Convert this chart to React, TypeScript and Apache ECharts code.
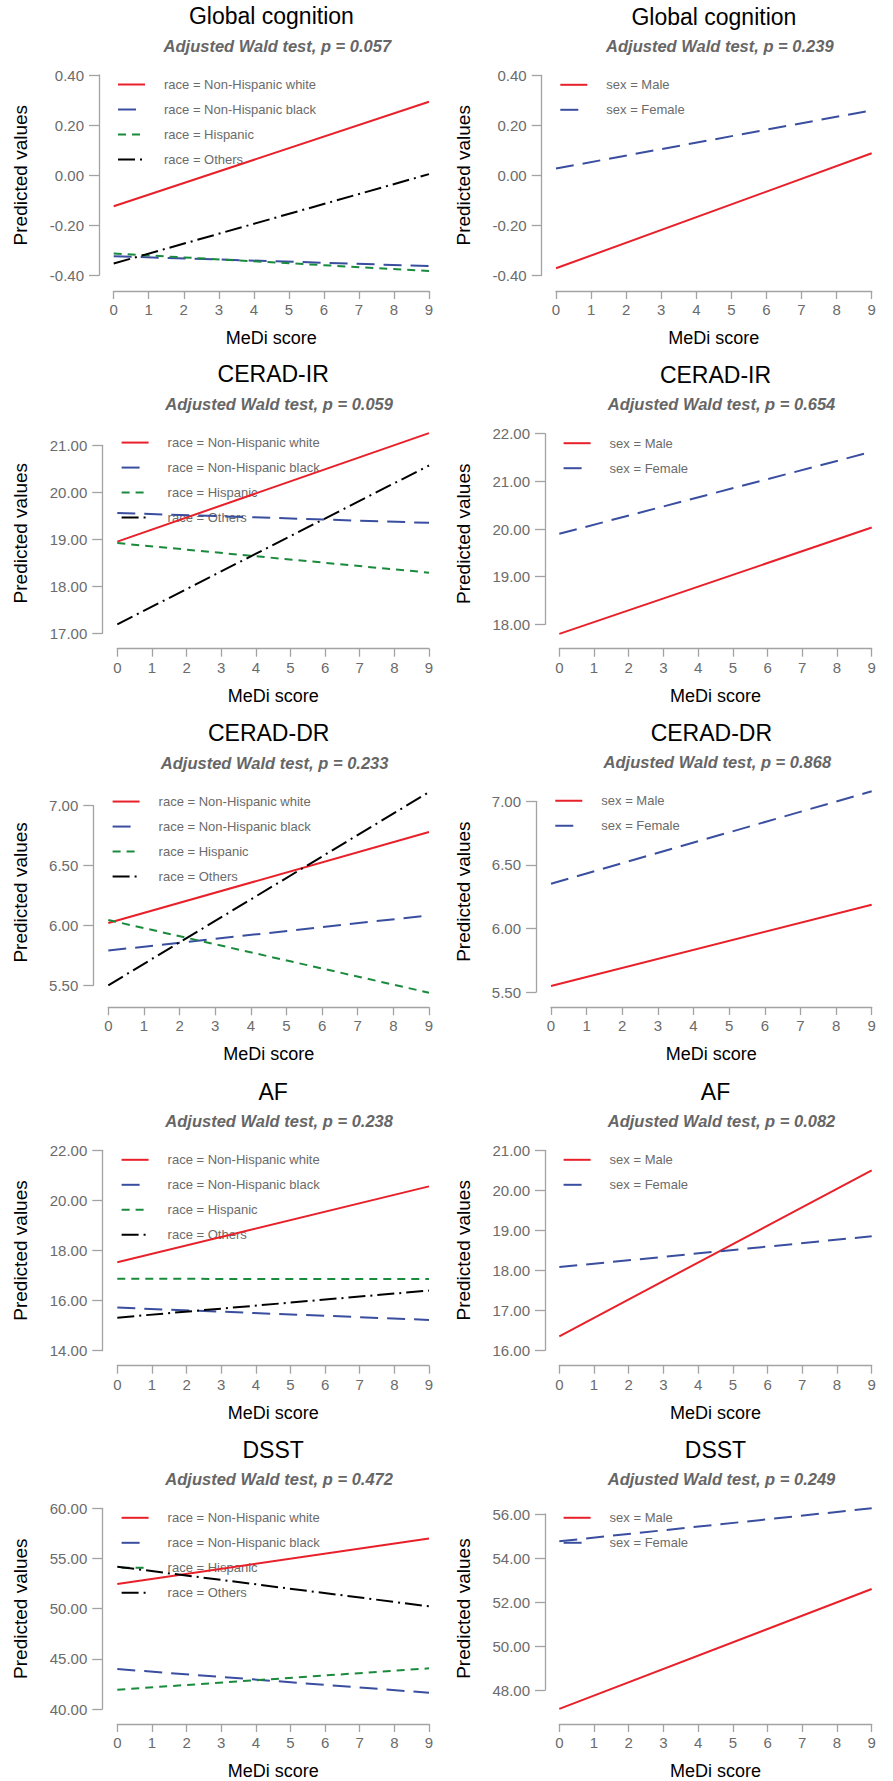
import React, { useEffect, useRef } from 'react';
import * as echarts from 'echarts';

// ---------------- data ----------------
const outcomes = ['Global cognition', 'CERAD-IR', 'CERAD-DR', 'AF', 'DSST'];
const raceP = ['0.057', '0.059', '0.233', '0.238', '0.472'];
const sexP = ['0.239', '0.654', '0.868', '0.082', '0.249'];
const mediScore = [0, 9];
const xTicks = [0, 1, 2, 3, 4, 5, 6, 7, 8, 9];

const raceNames = [
  'race = Non-Hispanic white',
  'race = Non-Hispanic black',
  'race = Hispanic',
  'race = Others',
];
const sexNames = ['sex = Male', 'sex = Female'];

// predicted values at MeDi score 0 and 9, per outcome
const nhWhite = [[-0.124, 0.293], [18.95, 21.26], [6.02, 6.78], [17.53, 20.56], [52.45, 57.0]];
const nhBlack = [[-0.324, -0.363], [19.56, 19.35], [5.79, 6.084], [15.72, 15.23], [43.98, 41.62]];
const hispanic = [[-0.313, -0.383], [18.92, 18.29], [6.045, 5.438], [16.87, 16.86], [41.92, 44.05]];
const others = [[-0.353, 0.004], [17.19, 20.57], [5.5, 7.114], [15.32, 16.4], [54.18, 50.23]];

const male = [[-0.372, 0.088], [17.8, 20.03], [5.547, 6.187], [16.35, 20.5], [47.14, 52.59]];
const female = [[0.027, 0.26], [19.9, 21.62], [6.352, 7.079], [18.08, 18.85], [54.76, 56.26]];

// y tick ranges
const raceYMin = [-0.4, 17, 5.5, 14, 40];
const raceYMax = [0.4, 21, 7, 22, 60];
const raceYStep = [0.2, 1, 0.5, 2, 5];
const sexYMin = [-0.4, 18, 5.5, 16, 48];
const sexYMax = [0.4, 22, 7, 21, 56];
const sexYStep = [0.2, 1, 0.5, 1, 2];

// ---------------- layout (px) ----------------
const leftLayout = [
  { x0: 113.7, x9: 429, top: 75, bottom: 275.3, axisX: 99, axisY: 291 },
  { x0: 117.3, x9: 429, top: 445.3, bottom: 633.3, axisX: 102.3, axisY: 648.7 },
  { x0: 108.3, x9: 429, top: 805.7, bottom: 985.3, axisX: 93.3, axisY: 1007.3 },
  { x0: 117.3, x9: 429, top: 1150.3, bottom: 1350.7, axisX: 102.3, axisY: 1365.7 },
  { x0: 117.3, x9: 429, top: 1508.3, bottom: 1709, axisX: 102.3, axisY: 1724 },
];
const rightLayout = [
  { x0: 556, x9: 871.7, top: 75.3, bottom: 275.3, axisX: 541.7, axisY: 291 },
  { x0: 559.3, x9: 871.7, top: 433.7, bottom: 624.3, axisX: 545, axisY: 648.7 },
  { x0: 551, x9: 871.7, top: 801.3, bottom: 992, axisX: 536, axisY: 1007 },
  { x0: 559.3, x9: 871.7, top: 1150.3, bottom: 1350.3, axisX: 545, axisY: 1365.7 },
  { x0: 559.3, x9: 871.7, top: 1514, bottom: 1690, axisX: 545, axisY: 1724 },
];
const yTitleX = [20.7, 463.5];

const FONT = '"Liberation Sans", Arial, Helvetica, sans-serif';
const RED = '#e8202a';
const BLUE = '#3a4ea0';
const GREEN = '#1a8a3c';
const BLACK = '#000000';
const AXIS_GRAY = '#a3a3a3';
const LABEL_GRAY = '#6b6b6b';

const raceStyles = [
  { color: RED, type: 'solid' as any },
  { color: BLUE, type: [18, 9] as any },
  { color: GREEN, type: [8, 6] as any },
  { color: BLACK, type: [17, 5, 2, 5] as any },
];
const sexStyles = [
  { color: RED, type: 'solid' as any },
  { color: BLUE, type: [18, 9] as any },
];

function buildOption() {
  const grid: any[] = [];
  const xAxis: any[] = [];
  const yAxis: any[] = [];
  const series: any[] = [];
  const legend: any[] = [];
  const graphic: any[] = [];

  const raceSeries = [nhWhite, nhBlack, hispanic, others];
  const sexSeries = [male, female];

  for (let r = 0; r < outcomes.length; r++) {
    for (let c = 0; c < 2; c++) {
      const idx = r * 2 + c;
      const L = c === 0 ? leftLayout[r] : rightLayout[r];
      const names = c === 0 ? raceNames : sexNames;
      const vals = (c === 0 ? raceSeries : sexSeries).map((s) => s[r]);
      const styles = c === 0 ? raceStyles : sexStyles;
      const yMin = c === 0 ? raceYMin[r] : sexYMin[r];
      const yMax = c === 0 ? raceYMax[r] : sexYMax[r];
      const yStep = c === 0 ? raceYStep[r] : sexYStep[r];
      const pval = c === 0 ? raceP[r] : sexP[r];

      grid.push({
        left: L.x0,
        top: L.top,
        width: L.x9 - L.x0,
        height: L.bottom - L.top,
        containLabel: false,
      });

      xAxis.push({
        type: 'value',
        gridIndex: idx,
        position: 'bottom',
        min: xTicks[0],
        max: xTicks[xTicks.length - 1],
        interval: 1,
        offset: L.axisY - L.bottom,
        name: 'MeDi score',
        nameLocation: 'middle',
        nameGap: 38,
        nameTextStyle: { fontSize: 18, color: '#000', fontFamily: FONT },
        axisLine: { show: true, onZero: false, lineStyle: { color: AXIS_GRAY, width: 1.3 } },
        axisTick: { show: true, length: 8, lineStyle: { color: AXIS_GRAY, width: 1.3 } },
        axisLabel: { margin: 11, fontSize: 15, color: LABEL_GRAY, fontFamily: FONT },
        splitLine: { show: false },
      });

      yAxis.push({
        type: 'value',
        gridIndex: idx,
        position: 'left',
        min: yMin,
        max: yMax,
        interval: yStep,
        offset: L.x0 - L.axisX,
        axisLine: { show: true, onZero: false, lineStyle: { color: AXIS_GRAY, width: 1.3 } },
        axisTick: { show: true, length: 10, lineStyle: { color: AXIS_GRAY, width: 1.3 } },
        axisLabel: {
          margin: 15,
          fontSize: 15,
          color: LABEL_GRAY,
          fontFamily: FONT,
          formatter: (v: number) => (Math.round(v * 100) / 100).toFixed(2),
        },
        splitLine: { show: false },
      });

      vals.forEach((v, k) => {
        series.push({
          type: 'line',
          name: names[k],
          xAxisIndex: idx,
          yAxisIndex: idx,
          data: mediScore.map((m, j) => [m, v[j]]),
          symbol: 'none',
          showSymbol: false,
          clip: false,
          silent: true,
          z: 5,
          lineStyle: { color: styles[k].color, width: 2, type: styles[k].type },
          itemStyle: { color: styles[k].color, opacity: 0 },
          emphasis: { disabled: true },
        });
      });

      // plot region (tick range extended by data range)
      const flat = vals.flat();
      const regTopVal = Math.max(yMax, ...flat);
      const regBotVal = Math.min(yMin, ...flat);
      const toPx = (v: number) => L.top + ((yMax - v) / (yMax - yMin)) * (L.bottom - L.top);
      const regTop = toPx(regTopVal);
      const regBot = toPx(regBotVal);
      const cx = (L.x0 + L.x9) / 2;

      legend.push({
        orient: 'vertical',
        left: L.x0 + 3.3,
        top: regTop + 10 - 7,
        itemWidth: 27,
        itemHeight: 14,
        itemGap: 12,
        selectedMode: false,
        padding: 0,
        z: 3,
        data: names,
        itemStyle: { opacity: 0 },
        textStyle: { color: LABEL_GRAY, fontSize: 13, fontFamily: FONT, padding: [0, 0, 0, 14] },
      });

      graphic.push({
        type: 'text',
        x: cx,
        y: regTop - 58.7,
        silent: true,
        style: {
          text: outcomes[r],
          fontSize: 23,
          fontFamily: FONT,
          fill: '#000',
          align: 'center',
          verticalAlign: 'middle',
        },
      });
      graphic.push({
        type: 'text',
        x: cx + 6,
        y: regTop - 29.5,
        silent: true,
        style: {
          text: `Adjusted Wald test, p = ${pval}`,
          fontSize: 16.5,
          fontWeight: 'bold',
          fontStyle: 'italic',
          fontFamily: FONT,
          fill: '#666666',
          align: 'center',
          verticalAlign: 'middle',
        },
      });
      graphic.push({
        type: 'text',
        x: yTitleX[c],
        y: (regTop + regBot) / 2,
        rotation: Math.PI / 2,
        silent: true,
        style: {
          text: 'Predicted values',
          fontSize: 19,
          fontFamily: FONT,
          fill: '#000',
          align: 'center',
          verticalAlign: 'middle',
        },
      });
    }
  }

  return {
    animation: false,
    backgroundColor: '#ffffff',
    grid,
    xAxis,
    yAxis,
    series,
    legend,
    graphic: { elements: graphic },
  };
}

export default function App() {
  const ref = useRef<HTMLDivElement>(null);
  useEffect(() => {
    if (!ref.current) return;
    const chart = echarts.init(ref.current, undefined, { renderer: 'svg' });
    chart.setOption(buildOption() as any);
    return () => chart.dispose();
  }, []);
  return (
    <div
      ref={ref}
      style={{ position: 'absolute', left: 0, top: 0, width: 893, height: 1781, background: '#fff' }}
    />
  );
}
